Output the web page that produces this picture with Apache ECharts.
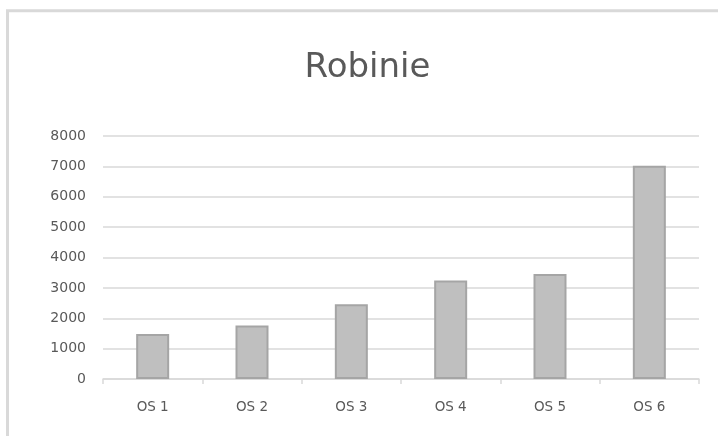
<!DOCTYPE html>
<html>
<head>
<meta charset="utf-8">
<script src="https://cdn.jsdelivr.net/npm/echarts@6/dist/echarts.min.js"></script>
<style>
html,body{margin:0;padding:0;background:#fff;}
#chart{width:718px;height:436px;}
</style>
</head>
<body>
<div id="chart"></div>
<script>
const titleText = 'Robinie';
const categories = ['OS 1', 'OS 2', 'OS 3', 'OS 4', 'OS 5', 'OS 6'];
const values = [1480, 1760, 2460, 3240, 3460, 7020];
const yTicks = [0, 1000, 2000, 3000, 4000, 5000, 6000, 7000, 8000];

const chart = echarts.init(document.getElementById('chart'), null, {renderer: 'canvas'});
chart.setOption({
  animation: false,
  backgroundColor: '#ffffff',
  title: {
    text: titleText,
    left: 367.5,
    textAlign: 'center',
    top: 51,
    padding: 0,
    textStyle: {
      fontFamily: 'DejaVu Sans',
      fontSize: 34,
      fontWeight: 'normal',
      color: '#595959'
    }
  },
  graphic: [{
    type: 'rect',
    silent: true,
    shape: {x: 7.5, y: 10.8, width: 900, height: 600},
    style: {fill: 'none', stroke: '#d9d9d9', lineWidth: 3}
  }],
  grid: {left: 103, right: 19, top: 136, bottom: 57, containLabel: false},
  xAxis: {
    type: 'category',
    data: categories,
    axisLine: {show: true, lineStyle: {color: '#d9d9d9', width: 1.5}},
    axisTick: {show: true, length: 5, alignWithLabel: false, lineStyle: {color: '#d9d9d9', width: 1.5}},
    axisLabel: {
      margin: 21,
      color: '#595959',
      fontFamily: 'DejaVu Sans',
      fontSize: 13.5
    },
    splitLine: {show: false}
  },
  yAxis: {
    type: 'value',
    min: yTicks[0],
    max: yTicks[yTicks.length - 1],
    interval: 1000,
    axisLine: {show: false},
    axisTick: {show: false},
    axisLabel: {
      margin: 17,
      color: '#595959',
      fontFamily: 'DejaVu Sans',
      fontSize: 14,
      formatter: function (v) { return String(v); }
    },
    splitLine: {show: true, lineStyle: {color: '#d9d9d9', width: 1.5}}
  },
  series: [{
    type: 'bar',
    data: values,
    barWidth: 33,
    itemStyle: {
      color: '#bfbfbf',
      borderColor: '#a5a5a5',
      borderWidth: 2
    }
  }]
});
</script>
</body>
</html>
